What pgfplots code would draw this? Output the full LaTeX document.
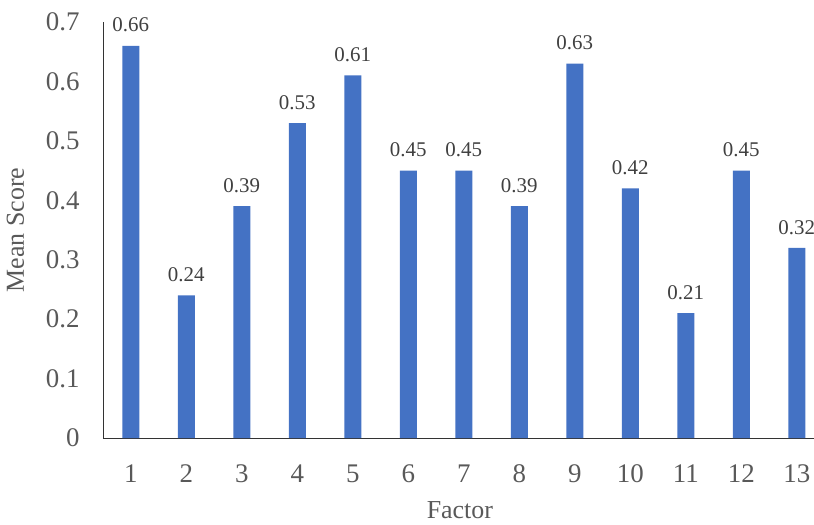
\documentclass[border=0pt]{standalone}
\usepackage{fontspec}
\setmainfont{Liberation Serif}
\usepackage{pgfplots}
\pgfplotsset{compat=1.18}
\definecolor{barblue}{RGB}{68,114,196}
\definecolor{ticktext}{RGB}{89,89,89}
\definecolor{labeltext}{RGB}{64,64,64}
\begin{document}
\begin{tikzpicture}
\useasboundingbox (-103bp,-87bp) rectangle (711bp,438bp);
\begin{axis}[
    at={(0,0)}, anchor=south west,
    scale only axis,
    width=711bp, height=416bp,
    xmin=0.5, xmax=13.31,
    ymin=0, ymax=0.7,
    axis x line*=bottom,
    axis y line*=left,
    axis line style={black!80, line width=0.9bp},
    major tick length=0pt,
    xtick={1,...,13},
    ytick={0,0.1,...,0.7},
    /pgf/number format/assume math mode=true,
    ticklabel style={font=\fontsize{27}{31}\selectfont, text=ticktext},
    yticklabel style={xshift=-20bp},
    xticklabel style={yshift=-23bp},
    xlabel={Factor},
    ylabel={Mean Score},
    label style={font=\fontsize{26}{30}\selectfont, text=ticktext},
    xlabel style={at={(axis description cs:0.502,0)}, anchor=base, yshift=-80bp},
    ylabel style={at={(axis description cs:0,0.5)}, anchor=base, yshift=79bp},
    nodes near coords,
    nodes near coords style={font=\fontsize{21}{24}\selectfont, text=labeltext,
        /pgf/number format/fixed, /pgf/number format/precision=2, yshift=10bp},
    clip=false,
]
\addplot[ybar, bar width=17bp, fill=barblue, draw=none] coordinates {
    (1,0.66) (2,0.24) (3,0.39) (4,0.53) (5,0.61) (6,0.45) (7,0.45)
    (8,0.39) (9,0.63) (10,0.42) (11,0.21) (12,0.45) (13,0.32)
};
\end{axis}
\end{tikzpicture}
\end{document}
